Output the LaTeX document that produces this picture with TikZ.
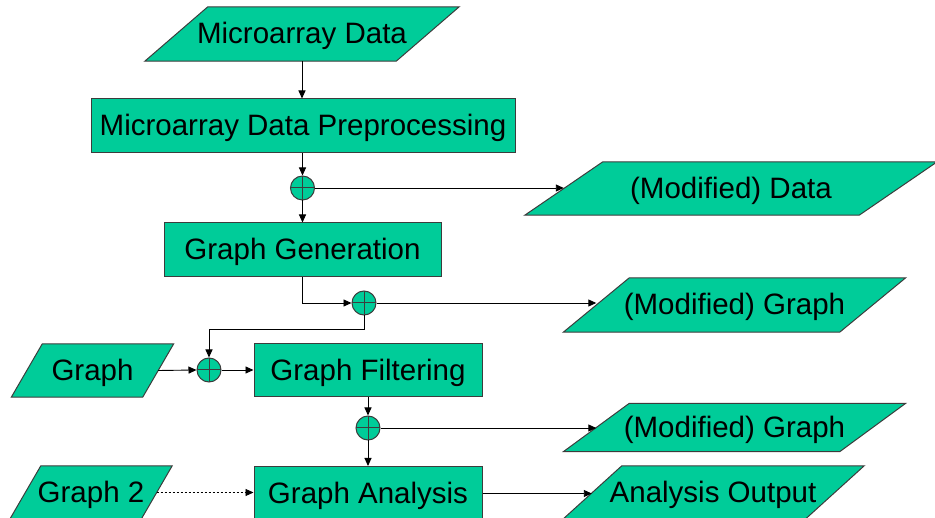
\documentclass[tikz,border=0pt]{standalone}
\usepackage{fontspec}
\setmainfont{Liberation Sans}
\usetikzlibrary{arrows.meta,backgrounds}

\definecolor{boxgreen}{RGB}{0,204,153}
\definecolor{edgegray}{RGB}{60,60,60}

\tikzset{
  x=1pt, y=-1pt,
  every node/.style={font=\fontsize{29.5}{34}\selectfont, text height=21pt, text depth=1.5pt},
  procbox/.style={draw=edgegray, fill=boxgreen, line width=1pt, inner sep=0pt},
  iotext/.style={inner sep=0pt},
  iofill/.style={draw=edgegray, fill=boxgreen, line width=1pt},
  junction/.style={circle, draw=edgegray, fill=boxgreen, line width=1pt,
    minimum size=24pt, inner sep=0pt, text height=0pt, text depth=0pt,
    path picture={\draw[edgegray, line width=1pt]
      (path picture bounding box.north) -- (path picture bounding box.south)
      (path picture bounding box.west) -- (path picture bounding box.east);}},
  flow/.style={line width=0.9pt, -{Triangle[length=8pt,width=7pt]}},
  dotflow/.style={flow, dash pattern=on 2pt off 2pt},
}

% parallelogram round an I/O node: #1 node name, #2 horizontal slant
\newcommand\ioshape[2]{%
  \draw[iofill] ([xshift=-#2/2]#1.south west) -- ([xshift=-#2/2]#1.south east)
    -- ([xshift=#2/2]#1.north east) -- ([xshift=#2/2]#1.north west) -- cycle;}

\begin{document}
\begin{tikzpicture}
\useasboundingbox (0,0) rectangle (935,518);
\clip (0,0) rectangle (935,518);

% I/O nodes (text only, outline drawn on the background layer)
\node[iotext, minimum width=251pt, minimum height=54pt] (mad) at (302,34) {Microarray Data};
\node[iotext, minimum width=334pt, minimum height=53pt] (md)  at (731,188.5) {(Modified) Data};
\node[iotext, minimum width=276pt, minimum height=54pt] (mg1) at (734.5,305) {(Modified) Graph};
\node[iotext, minimum width=276pt, minimum height=48pt] (mg2) at (734.5,427.5) {(Modified) Graph};
\node[iotext, minimum width=131pt, minimum height=53pt] (g1)  at (92.5,370.5) {Graph};
\node[iotext, minimum width=131pt, minimum height=53pt] (g2)  at (91,492.5) {Graph 2};
\node[iotext, minimum width=242pt, minimum height=54pt] (ao)  at (713,493) {Analysis Output};

% process boxes
\node[procbox, minimum width=424pt, minimum height=54pt] (pre)  at (303,126) {Microarray Data Preprocessing};
\node[procbox, minimum width=277pt, minimum height=54pt] (gen)  at (302.5,250) {Graph Generation};
\node[procbox, minimum width=228pt, minimum height=53pt] (filt) at (368,370.5) {Graph Filtering};
\node[procbox, minimum width=228pt, minimum height=54pt] (ana)  at (368,493.5) {Graph Analysis};

% summing junctions
\node[junction] (c1) at (302.5,188) {};
\node[junction] (c2) at (364,303) {};
\node[junction] (c3) at (209,370) {};
\node[junction] (c4) at (368,428) {};

\begin{pgfonlayer}{background}
  \ioshape{mad}{63}
  \ioshape{md}{78}
  \ioshape{mg1}{66}
  \ioshape{mg2}{66}
  \ioshape{g1}{31}
  \ioshape{g2}{31}
  \ioshape{ao}{60}
\end{pgfonlayer}

% connectors
\draw[flow] (mad.south) -- (mad.south |- pre.north);
\draw[flow] (c1 |- pre.south) -- (c1.north);
\draw[flow] (c1.south) -- (c1 |- gen.north);
\draw[flow] (c1.east) -- (c1 -| md.west);
\draw[flow] (gen.south) |- (c2.west);
\draw[flow] (c2.east) -- (c2 -| mg1.west);
\draw[flow] (c2.south) -- ++(0,14) -| (c3.north);
\draw[flow] (g1.east) -- (c3.west);
\draw[flow] (c3.east) -- (c3 -| filt.west);
\draw[flow] (filt.south) -- (c4.north);
\draw[flow] (c4.south) -- (c4 |- ana.north);
\draw[flow] (c4.east) -- (c4 -| mg2.west);
\draw[dotflow] (g2.east) -- (g2 -| ana.west);
\draw[flow] (ana.east) -- (ana -| ao.west);
\end{tikzpicture}
\end{document}
